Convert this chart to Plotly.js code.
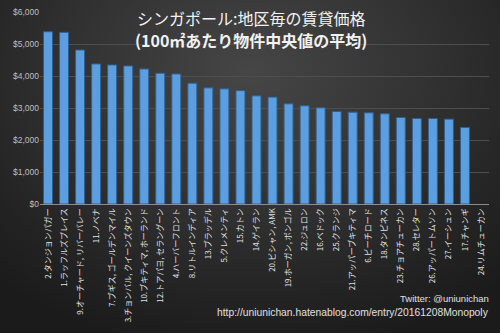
<!DOCTYPE html>
<html><head><meta charset="utf-8">
<script src="https://cdn.plot.ly/plotly-3.0.1.min.js"></script>
<style>
html,body{margin:0;padding:0;width:500px;height:333px;overflow:hidden;
background:radial-gradient(ellipse 75% 85% at 50% 22%, #464646 0%, #333333 45%, #232323 80%, #1b1b1b 100%);}
#chart{width:500px;height:333px;}
</style></head>
<body><div id="chart"></div>
<script>
const districts = [
  "2.タンジョンパガー","1.ラッフルズプレイス","9.オーチャード, リバーバレー","11.ノベナ",
  "7.ブギス, ゴールデンマイル","3.チョンバル, クイーンズタウン","10.ブキティマ, ホーランド",
  "12.トアパヨ, セラングーン","4.ハーバーフロント","8.リトルインディア","13.ブラッデル",
  "5.クレメンティ","15.カトン","14.ゲイラン","20.ビシャン, AMK","19.ホーガン, ポンゴル",
  "22.ジュロン","16.ベドック","25.クランジ","21.アッパーブキティマ","6.ビーチロード",
  "18.タンピネス","23.チョアチューカン","28.セレター","26.アッパートムソン","27.イーシュン",
  "17.チャンギ","24.リムチューカン"
];
const rentPer100m2 = [
  5383, 5364, 4813, 4377, 4346, 4315, 4221, 4087, 4065, 3776, 3629, 3598, 3545, 3380,
  3340, 3131, 3069, 3006, 2891, 2871, 2850, 2819, 2704, 2673, 2673, 2652, 2393, null
];
const yTicks = [0, 1000, 2000, 3000, 4000, 5000, 6000];
const yTickText = ["$0", "$1,000", "$2,000", "$3,000", "$4,000", "$5,000", "$6,000"];

const trace = {
  type: 'bar',
  x: districts,
  y: rentPer100m2,
  marker: {color: '#5b9fe0', line: {color: '#2f5f8f', width: 1}},
  hoverinfo: 'x+y'
};

const layout = {
  width: 500, height: 333,
  paper_bgcolor: 'rgba(0,0,0,0)',
  plot_bgcolor: 'rgba(0,0,0,0)',
  margin: {l: 40, r: 11, t: 12, b: 128.5},
  bargap: 0.44,
  showlegend: false,
  font: {family: '"Noto Sans CJK JP", "Noto Sans", sans-serif', color: '#d9d9d9'},
  xaxis: {
    type: 'category',
    tickangle: -90,
    tickfont: {size: 8, color: '#e0e0e0', family: '"Noto Sans CJK JP", sans-serif'},
    showline: true, linecolor: '#8c8c8c', linewidth: 1,
    showgrid: false, zeroline: false, ticks: '', automargin: false
  },
  yaxis: {
    range: [0, 6000],
    tickmode: 'array',
    tickvals: yTicks,
    ticktext: yTickText,
    tickfont: {size: 8.5, color: '#bfbfbf', family: '"Liberation Sans", sans-serif'},
    gridcolor: '#4e4e4e', gridwidth: 1,
    zeroline: false, showline: false, automargin: false, ticklen: 0
  },
  annotations: [
    {text: 'シンガポール:地区毎の賃貸価格', xref: 'paper', yref: 'paper', x: 0.469, y: 0.969,
     xanchor: 'center', yanchor: 'middle', showarrow: false,
     font: {size: 16, color: '#f2f2f2', family: '"Noto Sans CJK JP", sans-serif'}},
    {text: '<b>(100㎡あたり物件中央値の平均)</b>', xref: 'paper', yref: 'paper', x: 0.469, y: 0.855,
     xanchor: 'center', yanchor: 'middle', showarrow: false,
     font: {size: 16, color: '#f2f2f2', family: '"Noto Sans CJK JP", sans-serif'}},
    {text: 'Twitter: @uniunichan', xref: 'paper', yref: 'paper', x: 1.005, y: -0.49,
     xanchor: 'right', yanchor: 'middle', showarrow: false,
     font: {size: 9.5, color: '#e0e0e0', family: '"Liberation Sans", sans-serif'}},
    {text: 'http://uniunichan.hatenablog.com/entry/20161208Monopoly', xref: 'paper', yref: 'paper', x: 1.005, y: -0.565,
     xanchor: 'right', yanchor: 'middle', showarrow: false,
     font: {size: 10.3, color: '#e0e0e0', family: '"Liberation Sans", sans-serif'}}
  ]
};

Plotly.newPlot('chart', [trace], layout, {staticPlot: true, displayModeBar: false});
</script></body></html>
